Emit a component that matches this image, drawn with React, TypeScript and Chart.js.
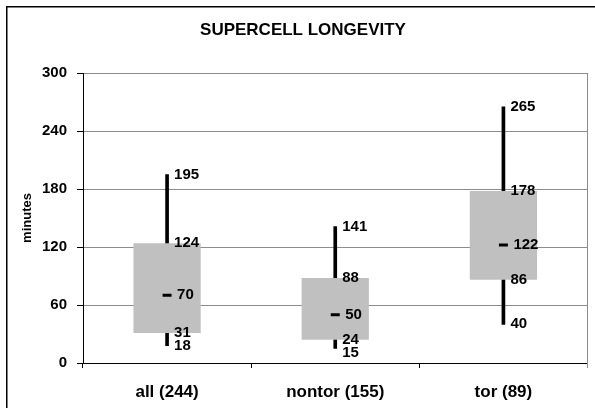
import { useEffect, useRef } from "react";
import { Chart, registerables } from "chart.js";

Chart.register(...registerables);

const categories = ["all (244)", "nontor (155)", "tor (89)"];
const minValues = [18, 15, 40];
const q1Values = [31, 24, 86];
const medianValues = [70, 50, 122];
const q3Values = [124, 88, 178];
const maxValues = [195, 141, 265];
const yTicks = [0, 60, 120, 180, 240, 300];

const GRID = "#8c8c8c";
const BOX = "#c0c0c0";
const FONT = "Arial, 'Liberation Sans', sans-serif";

const framePlugin = {
  id: "frame",
  beforeDraw(chart: any) {
    const { ctx } = chart;
    ctx.save();
    ctx.fillStyle = "#ffffff";
    ctx.fillRect(0, 0, chart.width, chart.height);
    ctx.fillStyle = "#000000";
    ctx.fillRect(6, 6, 1.5, chart.height - 6);
    ctx.fillRect(6, 6, chart.width - 6, 1.5);
    ctx.restore();
  },
  beforeDatasetsDraw(chart: any) {
    const { ctx, chartArea } = chart;
    ctx.save();
    ctx.strokeStyle = GRID;
    ctx.lineWidth = 1;
    ctx.beginPath();
    const rx = Math.round(chartArea.right) - 0.5;
    ctx.moveTo(rx, chartArea.top);
    ctx.lineTo(rx, chartArea.bottom + 5);
    ctx.stroke();
    ctx.restore();
  },
};

const labelPlugin = {
  id: "boxLabels",
  afterDatasetsDraw(chart: any) {
    const { ctx } = chart;
    const x = chart.scales.x;
    const y = chart.scales.y;
    ctx.save();
    ctx.font = `bold 15px ${FONT}`;
    ctx.fillStyle = "#000000";
    ctx.textBaseline = "middle";
    ctx.textAlign = "left";
    categories.forEach((_, i) => {
      const cx = x.getPixelForValue(i);
      const vals = [maxValues[i], q3Values[i], q1Values[i], minValues[i]];
      let prev = -Infinity;
      vals.forEach((v) => {
        let py = y.getPixelForValue(v);
        if (py < prev + 13) py = prev + 13;
        ctx.fillText(String(v), cx + 7, py);
        prev = py;
      });
      ctx.fillText(String(medianValues[i]), cx + 10, y.getPixelForValue(medianValues[i]));
    });
    ctx.restore();
  },
};

export default function App() {
  const ref = useRef<HTMLCanvasElement | null>(null);

  useEffect(() => {
    if (!ref.current) return;
    const chart = new Chart(ref.current, {
      type: "bar",
      data: {
        labels: categories,
        datasets: [
          {
            type: "line",
            label: "median",
            data: medianValues,
            showLine: false,
            pointStyle: "line",
            pointRadius: 4.5,
            pointBorderWidth: 3,
            pointBorderColor: "#000000",
            borderColor: "#000000",
            order: 0,
          } as any,
          {
            label: "box",
            data: categories.map((_, i) => [q1Values[i], q3Values[i]]),
            backgroundColor: BOX,
            borderWidth: 0,
            barPercentage: 0.4,
            categoryPercentage: 1,
            order: 1,
          },
          {
            label: "whisker",
            data: categories.map((_, i) => [minValues[i], maxValues[i]]),
            backgroundColor: "#000000",
            borderWidth: 0,
            barThickness: 3,
            order: 2,
          },
        ],
      },
      options: {
        responsive: false,
        animation: false,
        devicePixelRatio: 1,
        layout: { padding: { left: 13, right: 2, top: 0, bottom: 0 } },
        plugins: {
          legend: { display: false },
          tooltip: { enabled: false },
          title: {
            display: true,
            text: "SUPERCELL LONGEVITY",
            color: "#000000",
            font: { family: FONT, size: 17, weight: "bold" },
            padding: { top: 20, bottom: 32.6 },
          },
        },
        scales: {
          x: {
            stacked: true,
            offset: true,
            grid: {
              offset: true,
              drawOnChartArea: false,
              drawTicks: true,
              tickLength: 5,
              tickColor: "#000000",
            },
            border: { display: true, color: "#000000", width: 1 },
            ticks: {
              color: "#000000",
              padding: 14,
              font: { family: FONT, size: 17, weight: "bold" },
            },
            afterFit: (scale: any) => {
              scale.height = 45;
            },
          },
          y: {
            min: yTicks[0],
            max: yTicks[yTicks.length - 1],
            afterBuildTicks: (scale: any) => {
              scale.ticks = yTicks.map((v) => ({ value: v }));
            },
            grid: {
              color: (c: any) => (c.tick && c.tick.value === 0 ? "#000000" : GRID),
              tickColor: "#000000",
              tickLength: 6,
              lineWidth: 1,
            },
            border: { display: true, color: "#000000", width: 1 },
            ticks: {
              color: "#000000",
              padding: 10,
              font: { family: FONT, size: 15, weight: "bold" },
            },
            title: {
              display: true,
              text: "minutes",
              color: "#000000",
              font: { family: FONT, size: 13, weight: "bold" },
              padding: { top: 7, bottom: 0 },
            },
            afterFit: (scale: any) => {
              scale.width = 70;
            },
          },
        },
      },
      plugins: [framePlugin, labelPlugin],
    } as any);
    return () => chart.destroy();
  }, []);

  return (
    <div style={{ position: "fixed", left: 0, top: 0, width: 595, height: 408 }}>
      <canvas ref={ref} width={595} height={408} style={{ width: 595, height: 408 }} />
    </div>
  );
}
